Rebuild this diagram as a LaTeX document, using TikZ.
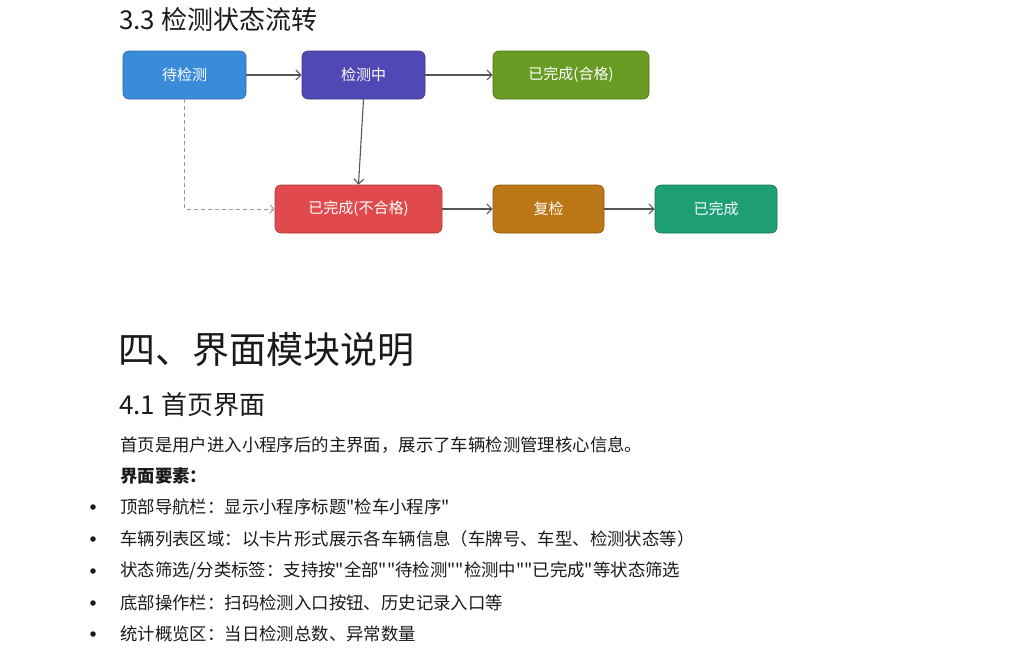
\documentclass[tikz,border=0pt]{standalone}
\usepackage{fontspec}
\setmainfont{Noto Sans CJK SC}
\newfontfamily\cjkplain{Noto Sans CJK SC}
\usetikzlibrary{arrows.meta}
\definecolor{cBlue}{HTML}{3B8BDB}
\definecolor{cPurple}{HTML}{5248B5}
\definecolor{cGreen}{HTML}{689B23}
\definecolor{cRed}{HTML}{E04A4D}
\definecolor{cOrange}{HTML}{BB7616}
\definecolor{cTeal}{HTML}{1E9E75}
\definecolor{cText}{HTML}{1A1A1A}
\definecolor{cLine}{HTML}{555555}
\definecolor{cDash}{HTML}{999999}
\tikzset{
  state/.style={draw=#1!75!black, fill=#1, rounded corners=6pt, text=white, minimum height=48pt, font=\fontsize{15}{18}\selectfont, inner sep=0pt, line width=0.6pt},
  flow/.style={draw=cLine, line width=1.1pt, -{Straight Barb[length=5pt,width=10pt]}},
  dflow/.style={draw=cDash, line width=1pt, dash pattern=on 4pt off 3pt, -{Straight Barb[length=4pt,width=8pt]}},
  txt/.style={anchor=west, inner sep=0pt, text=cText},
  body/.style={txt, font=\cjkplain\fontsize{17.4}{20}\selectfont},
  bodybold/.style={txt, font=\cjkplain\fontsize{17.4}{20}\selectfont\bfseries},
  bul/.style={fill=cText, circle, inner sep=0pt, minimum size=5.5pt}
}
\begin{document}
\begin{tikzpicture}[x=1pt,y=-1pt]
\useasboundingbox (0,0) rectangle (1024,649);
\node[txt, font=\fontsize{26}{30}\selectfont] (t1) at (119,20) {3.3 检测状态流转};

\node[state=cBlue, minimum width=123pt] (a) at (184.5,75) {待检测};
\node[state=cPurple, minimum width=123pt] (b) at (363.5,75) {检测中};
\node[state=cGreen, minimum width=156pt] (c) at (571,75) {已完成(合格)};
\node[state=cRed, minimum width=167pt] (d) at (358.5,209) {已完成(不合格)};
\node[state=cOrange, minimum width=111pt] (e) at (548.5,209) {复检};
\node[state=cTeal, minimum width=122pt] (f) at (716,209) {已完成};

\draw[flow] (a) -- (b);
\draw[flow] (b) -- (c);
\draw[flow] (b.south) -- (d.north);
\draw[dflow] (a.south) |- (d.west);
\draw[flow] (d) -- (e);
\draw[flow] (e) -- (f);

\node[txt, font=\fontsize{37}{42}\selectfont] (h1) at (118,350) {四、界面模块说明};
\node[txt, font=\fontsize{26}{30}\selectfont] (h2) at (119,405) {4.1 首页界面};
\node[body] (p1) at (120,445) {首页是用户进入小程序后的主界面，展示了车辆检测管理核心信息。};
\node[bodybold] (p2) at (120,476) {界面要素：};
\foreach \yy/\tt [count=\i] in {507/{顶部导航栏：显示小程序标题"检车小程序"},539/{车辆列表区域：以卡片形式展示各车辆信息（车牌号、车型、检测状态等）},571/{状态筛选/分类标签：支持按"全部""待检测""检测中""已完成"等状态筛选},603/{底部操作栏：扫码检测入口按钮、历史记录入口等},634/{统计概览区：当日检测总数、异常数量}}{
  \node[bul] (b\i) at (93,\yy) {};
  \node[body] (l\i) at (120,\yy) {\tt};
}
\end{tikzpicture}
\end{document}
